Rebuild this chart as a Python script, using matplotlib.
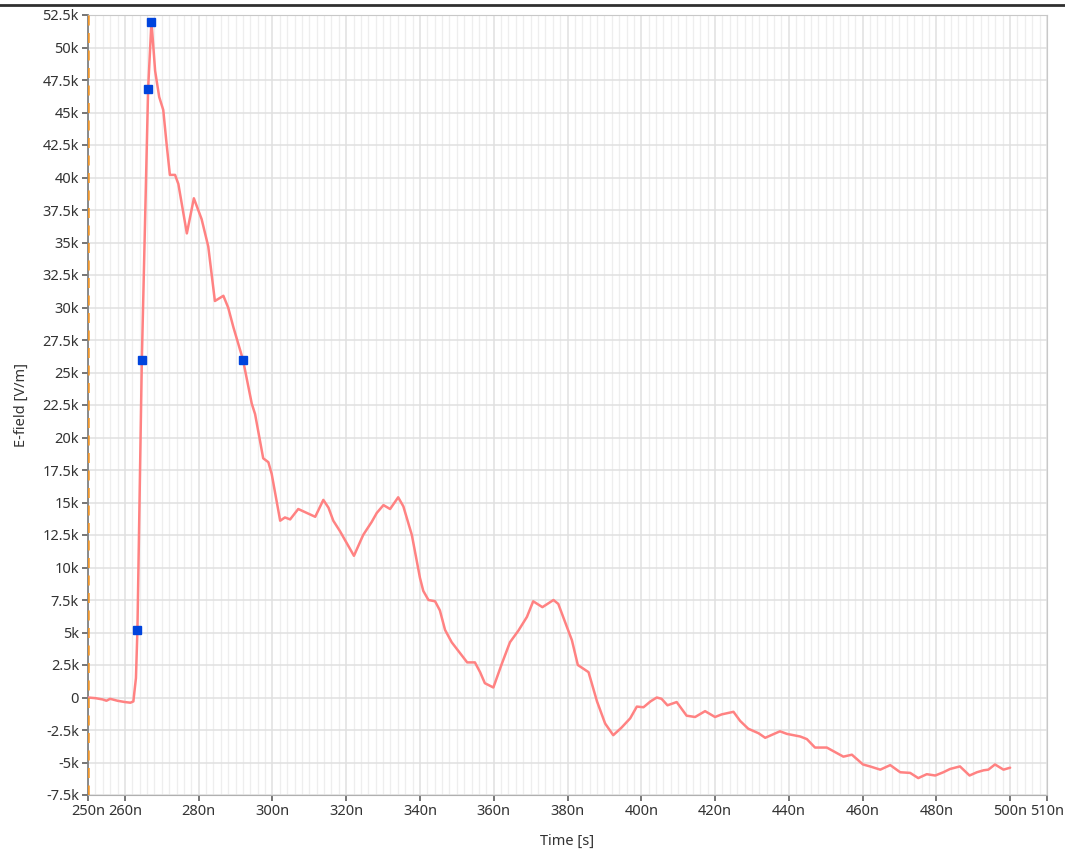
import matplotlib
matplotlib.use("Agg")
import matplotlib.pyplot as plt
from matplotlib.lines import Line2D
from matplotlib.ticker import FixedLocator, MultipleLocator

plt.rcParams['font.family'] = ['Noto Sans', 'DejaVu Sans']

# time in ns, E-field in kV/m
time_ns = [250.0, 252.0, 254.0, 255.0, 256.0, 258.0, 260.0, 261.5, 262.3, 263.0,
           263.4, 264.6, 266.3, 267.2, 268.2, 269.3, 270.4, 271.3, 272.2, 273.6,
           274.5, 275.4, 276.8, 278.7, 280.8, 282.6, 284.4, 286.7, 288.0, 289.4,
           292.0, 294.4, 295.3, 297.5, 298.9, 299.8, 302.1, 303.4, 304.8, 307.0,
           309.3, 311.6, 313.8, 315.2, 316.5, 318.3, 320.1, 322.1, 324.6, 326.9,
           328.3, 330.1, 331.9, 334.1, 335.5, 337.8, 340.0, 340.9, 342.3, 344.1,
           345.4, 346.8, 348.6, 350.9, 352.8, 354.9, 356.3, 357.6, 359.9, 362.2,
           364.4, 366.7, 369.0, 370.7, 373.2, 376.2, 377.5, 381.2, 382.8, 385.7,
           388.0, 390.2, 392.4, 394.7, 397.0, 398.8, 400.6, 402.5, 404.2, 405.5,
           407.1, 409.6, 412.3, 414.6, 417.3, 420.0, 421.8, 425.0, 426.8, 429.0,
           431.8, 433.6, 437.6, 439.5, 443.1, 444.9, 447.1, 450.3, 454.8, 457.1,
           460.1, 462.0, 464.8, 467.5, 470.2, 472.9, 475.1, 477.4, 479.7, 481.9,
           483.7, 486.4, 489.0, 491.0, 492.8, 494.1, 495.9, 498.2, 500.0]
efield_k = [0.0, -0.05, -0.15, -0.25, -0.1, -0.25, -0.35, -0.4, -0.3, 1.5,
            5.2, 26.0, 46.8, 52.0, 48.2, 46.2, 45.2, 42.6, 40.2, 40.2,
            39.5, 38.0, 35.7, 38.4, 36.8, 34.7, 30.5, 30.9, 30.0, 28.5,
            26.0, 22.6, 21.8, 18.4, 18.1, 17.2, 13.6, 13.85, 13.7, 14.5,
            14.2, 13.9, 15.2, 14.6, 13.6, 12.8, 11.9, 10.9, 12.5, 13.5,
            14.2, 14.8, 14.5, 15.4, 14.7, 12.5, 9.2, 8.2, 7.5, 7.4,
            6.7, 5.2, 4.25, 3.4, 2.7, 2.7, 1.95, 1.1, 0.77, 2.6,
            4.25, 5.15, 6.2, 7.4, 6.95, 7.5, 7.2, 4.4, 2.5, 1.95,
            -0.3, -2.0, -2.9, -2.3, -1.6, -0.7, -0.75, -0.3, 0.0, -0.1,
            -0.6, -0.35, -1.4, -1.5, -1.05, -1.5, -1.3, -1.1, -1.8, -2.4,
            -2.75, -3.1, -2.6, -2.8, -3.0, -3.2, -3.85, -3.85, -4.55, -4.4,
            -5.15, -5.3, -5.55, -5.2, -5.75, -5.8, -6.2, -5.9, -6.0, -5.75,
            -5.5, -5.3, -6.0, -5.75, -5.6, -5.55, -5.15, -5.55, -5.4]

marker_t = [263.4, 264.6, 266.3, 267.2, 292.0]
marker_e = [5.2, 26.0, 46.8, 52.0, 26.0]

xticks = [250, 260, 280, 300, 320, 340, 360, 380, 400, 420, 440, 460, 480, 500, 510]
xtick_labels = ['250n', '260n', '280n', '300n', '320n', '340n', '360n', '380n',
                '400n', '420n', '440n', '460n', '480n', '500n', '510n']
yticks = [-7.5, -5, -2.5, 0, 2.5, 5, 7.5, 10, 12.5, 15, 17.5, 20, 22.5, 25, 27.5,
          30, 32.5, 35, 37.5, 40, 42.5, 45, 47.5, 50, 52.5]
ytick_labels = ['-7.5k', '-5k', '-2.5k', '0', '2.5k', '5k', '7.5k', '10k', '12.5k',
                '15k', '17.5k', '20k', '22.5k', '25k', '27.5k', '30k', '32.5k',
                '35k', '37.5k', '40k', '42.5k', '45k', '47.5k', '50k', '52.5k']

fig = plt.figure(figsize=(10.65, 8.52), dpi=100)
ax = fig.add_axes([88/1065, 1 - 795/852, (1047-88)/1065, (795-15)/852])

ax.set_xlim(250, 510)
ax.set_ylim(-7.5, 52.5)

ax.xaxis.set_major_locator(FixedLocator(xticks))
ax.set_xticklabels(xtick_labels)
ax.xaxis.set_minor_locator(MultipleLocator(2))
ax.yaxis.set_major_locator(FixedLocator(yticks))
ax.set_yticklabels(ytick_labels)

ax.grid(True, which='major', color='#e0e0e0', linewidth=1.1)
ax.grid(True, which='minor', axis='x', color='#eeeeee', linewidth=0.9)
ax.set_axisbelow(True)

ax.tick_params(axis='both', which='major', direction='out', length=4.5, width=1.1,
               color='#505050', labelsize=10.5, labelcolor='#333333', pad=2)
ax.tick_params(axis='both', which='minor', length=0)

for s in ['top', 'right']:
    ax.spines[s].set_color('#c8c8c8')
ax.spines['bottom'].set_color('#b0b0b0')
ax.spines['left'].set_color('#808080')
ax.spines['left'].set_linewidth(1.3)

ax.plot(time_ns, efield_k, color='#ff8282', linewidth=1.8, zorder=3,
        solid_joinstyle='round', solid_capstyle='round')
ax.plot(marker_t, marker_e, linestyle='none', marker='s', markersize=5.5,
        color='#0044dd', zorder=4)
ax.axvline(250, color='#f0962a', linestyle=(0, (4, 3)), linewidth=1.8, zorder=5)

ax.set_xlabel('Time [s]', fontsize=10.5, color='#333333', labelpad=11)
ax.set_ylabel('E-field [V/m]', fontsize=10.5, color='#333333', labelpad=10)

fig.add_artist(Line2D([0, 1], [1 - 5/852, 1 - 5/852], color='#303030',
                      linewidth=2.0, transform=fig.transFigure))

fig.savefig('out.png', dpi=100)
